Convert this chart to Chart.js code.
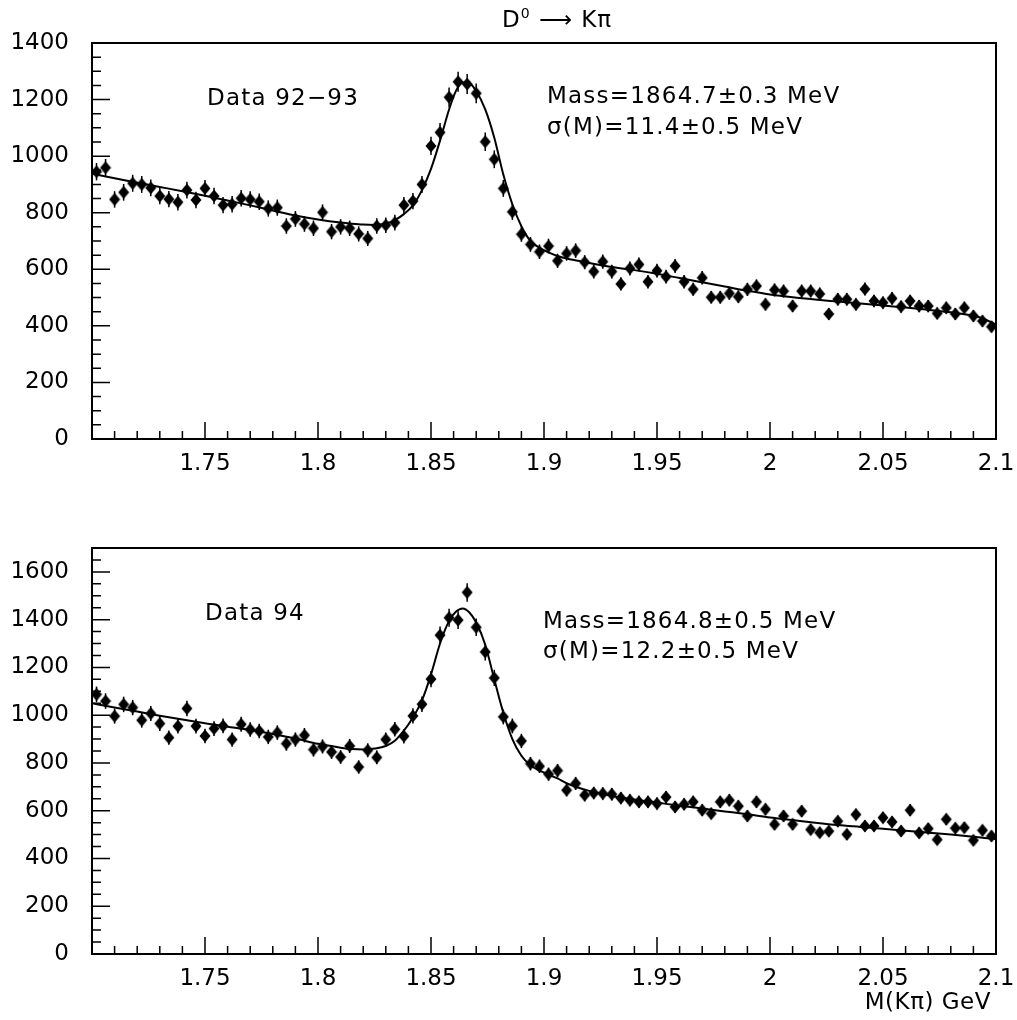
<!DOCTYPE html>
<html lang="en">
<head>
    <meta charset="UTF-8">
    <title>D0 to K pi mass spectra</title>
    <script src="https://cdn.jsdelivr.net/npm/chart.js"></script>
    <style>
        body {
            margin: 0;
            background: #fff;
            font-family: "DejaVu Sans", sans-serif;
            color: #000;
        }

        .page {
            position: relative;
            width: 1017px;
            height: 1020px;
        }

        .panel {
            position: absolute;
            left: 0;
            width: 1017px;
        }

        .label {
            position: absolute;
            font-size: 23px;
            letter-spacing: 1.2px;
            white-space: nowrap;
            line-height: 1;
        }
    </style>
</head>
<body>
    <div class="page">
        <div class="panel" style="top:0; height:490px;"><canvas id="topChart"></canvas></div>
        <div class="panel" style="top:500px; height:520px;"><canvas id="bottomChart"></canvas></div>

        <div class="label" style="left:502px; top:6px; font-size:23px; letter-spacing:1px;">D<sup style="font-size:14px; vertical-align:9px;">0</sup> &#x27F6; K&pi;</div>

        <div class="label" style="left:207px; top:86px;">Data 92&minus;93</div>
        <div class="label" style="left:547px; top:84px;">Mass=1864.7&plusmn;0.3 MeV</div>
        <div class="label" style="left:547px; top:115px;">&sigma;(M)=11.4&plusmn;0.5 MeV</div>

        <div class="label" style="left:205px; top:601px;">Data 94</div>
        <div class="label" style="left:543px; top:609px;">Mass=1864.8&plusmn;0.5 MeV</div>
        <div class="label" style="left:543px; top:639px;">&sigma;(M)=12.2&plusmn;0.5 MeV</div>

        <div class="label" style="right:26px; top:990px; letter-spacing:0.5px;">M(K&pi;) GeV</div>
    </div>

    <script>
        // bin centres, 4 MeV bins
        const massBins = [
            1.702, 1.706, 1.710, 1.714, 1.718, 1.722, 1.726, 1.730, 1.734, 1.738,
            1.742, 1.746, 1.750, 1.754, 1.758, 1.762, 1.766, 1.770, 1.774, 1.778,
            1.782, 1.786, 1.790, 1.794, 1.798, 1.802, 1.806, 1.810, 1.814, 1.818,
            1.822, 1.826, 1.830, 1.834, 1.838, 1.842, 1.846, 1.850, 1.854, 1.858,
            1.862, 1.866, 1.870, 1.874, 1.878, 1.882, 1.886, 1.890, 1.894, 1.898,
            1.902, 1.906, 1.910, 1.914, 1.918, 1.922, 1.926, 1.930, 1.934, 1.938,
            1.942, 1.946, 1.950, 1.954, 1.958, 1.962, 1.966, 1.970, 1.974, 1.978,
            1.982, 1.986, 1.990, 1.994, 1.998, 2.002, 2.006, 2.010, 2.014, 2.018,
            2.022, 2.026, 2.030, 2.034, 2.038, 2.042, 2.046, 2.050, 2.054, 2.058,
            2.062, 2.066, 2.070, 2.074, 2.078, 2.082, 2.086, 2.090, 2.094, 2.098
        ];

        const counts9293 = [
            945, 959, 847, 872, 904, 900, 888, 859, 848, 837,
            880, 845, 886, 859, 827, 830, 851, 847, 839, 815,
            818, 753, 778, 760, 745, 801, 733, 750, 745, 725,
            709, 753, 756, 765, 827, 841, 900, 1036, 1084, 1208,
            1263, 1255, 1222, 1051, 989, 886, 803, 724, 688, 662,
            682, 630, 656, 666, 625, 592, 627, 592, 548, 603,
            617, 556, 595, 574, 612, 556, 529, 570, 501, 501,
            515, 503, 529, 541, 476, 527, 523, 470, 523, 523,
            513, 442, 494, 494, 476, 530, 488, 482, 497, 468,
            488, 470, 470, 444, 464, 442, 464, 435, 417, 397
        ];

        const counts94 = [
            1087, 1059, 996, 1045, 1032, 979, 1007, 965, 906, 954,
            1028, 954, 913, 944, 955, 898, 962, 940, 934, 909,
            927, 881, 898, 916, 856, 869, 846, 825, 871, 783,
            853, 823, 898, 941, 912, 997, 1046, 1151, 1335, 1408,
            1398, 1514, 1368, 1265, 1156, 993, 955, 892, 797, 786,
            753, 768, 686, 714, 665, 674, 672, 669, 653, 644,
            637, 637, 630, 657, 616, 627, 637, 602, 588, 637,
            644, 619, 578, 637, 606, 543, 578, 543, 598, 521,
            508, 514, 556, 501, 584, 536, 536, 571, 553, 515,
            602, 507, 525, 479, 564, 527, 529, 476, 518, 494
        ];

        // fitted curves at these masses
        const fitMass = [
            1.700, 1.710, 1.720, 1.730, 1.740, 1.750, 1.760, 1.770, 1.780, 1.790,
            1.800, 1.810, 1.815, 1.820, 1.825, 1.830, 1.834, 1.838, 1.842, 1.846,
            1.850, 1.854, 1.858, 1.861, 1.864, 1.867, 1.870, 1.874, 1.878, 1.882,
            1.886, 1.890, 1.894, 1.898, 1.902, 1.906, 1.910, 1.915, 1.920, 1.930,
            1.940, 1.950, 1.960, 1.970, 1.980, 1.990, 2.000, 2.010, 2.020, 2.030,
            2.040, 2.050, 2.060, 2.070, 2.080, 2.090, 2.095, 2.100
        ];

        const fit9293 = [
            938, 922, 906, 891, 876, 860, 843, 826, 808, 790,
            776, 765, 761, 758, 757, 762, 774, 795, 826, 880,
            955, 1055, 1165, 1230, 1260, 1258, 1230, 1165, 1065, 935,
            830, 752, 700, 676, 660, 647, 638, 630, 622, 608,
            597, 584, 569, 554, 539, 524, 511, 501, 493, 486,
            479, 472, 465, 457, 448, 436, 424, 404
        ];

        const fit94 = [
            1050, 1032, 1015, 998, 982, 966, 952, 938, 921, 902,
            880, 864, 858, 856, 860, 871, 893, 935, 990, 1062,
            1170, 1300, 1395, 1433, 1447, 1430, 1388, 1295, 1150, 1010,
            900, 830, 790, 768, 752, 735, 715, 697, 683, 662,
            647, 634, 621, 609, 597, 585, 572, 561, 550, 540,
            532, 524, 516, 508, 500, 491, 486, 481
        ];

        const xTickValues = [1.75, 1.8, 1.85, 1.9, 1.95, 2.0, 2.05, 2.1];
        const xTickLabels = ["1.75", "1.8", "1.85", "1.9", "1.95", "2", "2.05", "2.1"];
        const yTicksTop = [0, 200, 400, 600, 800, 1000, 1200, 1400];
        const yTicksBottom = [0, 200, 400, 600, 800, 1000, 1200, 1400, 1600];

        const tickFont = { family: "DejaVu Sans", size: 23 };

        // filled diamond marker, a bit taller than wide
        function makeDiamond() {
            const c = document.createElement("canvas");
            c.width = 12;
            c.height = 14;
            const g = c.getContext("2d");
            g.fillStyle = "#000";
            g.beginPath();
            g.moveTo(6, 0.5);
            g.lineTo(11.5, 7);
            g.lineTo(6, 13.5);
            g.lineTo(0.5, 7);
            g.closePath();
            g.fill();
            return c;
        }
        const diamond = makeDiamond();

        // statistical error bars + frame with inward ticks, HBOOK style
        const framePlugin = {
            id: "frame",
            beforeDatasetsDraw(chart) {
                const ctx = chart.ctx;
                const y = chart.scales.y;
                const meta = chart.getDatasetMeta(1);
                ctx.save();
                ctx.strokeStyle = "#000";
                ctx.lineWidth = 1.5;
                meta.data.forEach((pt, i) => {
                    const v = chart.data.datasets[1].data[i].y;
                    const e = Math.sqrt(v);
                    ctx.beginPath();
                    ctx.moveTo(pt.x, y.getPixelForValue(v + e));
                    ctx.lineTo(pt.x, y.getPixelForValue(v - e));
                    ctx.stroke();
                });
                ctx.restore();
            },
            afterDraw(chart) {
                const { ctx, chartArea: a, scales } = chart;
                const sx = scales.x, sy = scales.y;
                ctx.save();
                ctx.strokeStyle = "#000";
                ctx.lineWidth = 2;
                ctx.strokeRect(a.left, a.top, a.right - a.left, a.bottom - a.top);
                ctx.lineWidth = 1.5;
                ctx.beginPath();
                for (let i = 1; i < 40; i++) {
                    const px = sx.getPixelForValue(1.7 + i * 0.01);
                    const len = i % 5 === 0 ? 17 : 8;
                    ctx.moveTo(px, a.bottom);
                    ctx.lineTo(px, a.bottom - len);
                }
                for (let v = 50; v < sy.max; v += 50) {
                    const py = sy.getPixelForValue(v);
                    const len = v % 200 === 0 ? 18 : 9;
                    ctx.moveTo(a.left, py);
                    ctx.lineTo(a.left + len, py);
                }
                ctx.stroke();
                ctx.restore();
            }
        };

        function drawPanel(id, counts, fit, yMax, yTicks, padTop, xHeight) {
            const ctx = document.getElementById(id).getContext("2d");
            new Chart(ctx, {
                data: {
                    datasets: [
                        {
                            type: "line",
                            data: fitMass.map((m, i) => ({ x: m, y: fit[i] })),
                            borderColor: "#000",
                            borderWidth: 2,
                            pointRadius: 0,
                            fill: false,
                            cubicInterpolationMode: "monotone"
                        },
                        {
                            type: "scatter",
                            data: massBins.map((m, i) => ({ x: m, y: counts[i] })),
                            pointStyle: diamond,
                            pointRadius: 6,
                            backgroundColor: "#000",
                            borderColor: "#000"
                        }
                    ]
                },
                options: {
                    responsive: true,
                    maintainAspectRatio: false,
                    animation: false,
                    layout: { padding: { top: padTop, right: 21, left: 0, bottom: 0 } },
                    plugins: { legend: { display: false }, tooltip: { enabled: false } },
                    scales: {
                        x: {
                            type: "linear",
                            min: 1.7,
                            max: 2.1,
                            grid: { display: false, drawTicks: false },
                            border: { display: false },
                            afterBuildTicks: s => { s.ticks = xTickValues.map(v => ({ value: v })); },
                            afterFit: s => {
                                s.height = xHeight;
                                s.paddingLeft = 0;
                                s.paddingRight = 0;
                            },
                            ticks: {
                                autoSkip: false,
                                maxRotation: 0,
                                padding: 11,
                                color: "#000",
                                font: tickFont,
                                callback: (v, i) => xTickLabels[i]
                            }
                        },
                        y: {
                            min: 0,
                            max: yMax,
                            grid: { display: false, drawTicks: false },
                            border: { display: false },
                            afterBuildTicks: s => { s.ticks = yTicks.map(v => ({ value: v })); },
                            afterFit: s => {
                                s.width = 92;
                                s.paddingTop = 0;
                                s.paddingBottom = 0;
                            },
                            ticks: {
                                autoSkip: false,
                                padding: 23,
                                color: "#000",
                                font: tickFont,
                                callback: v => String(v)
                            }
                        }
                    }
                },
                plugins: [framePlugin]
            });
        }

        document.addEventListener("DOMContentLoaded", () => {
            drawPanel("topChart", counts9293, fit9293, 1400, yTicksTop, 43, 51);
            drawPanel("bottomChart", counts94, fit94, 1700, yTicksBottom, 48, 66);
        });
    </script>
</body>
</html>
